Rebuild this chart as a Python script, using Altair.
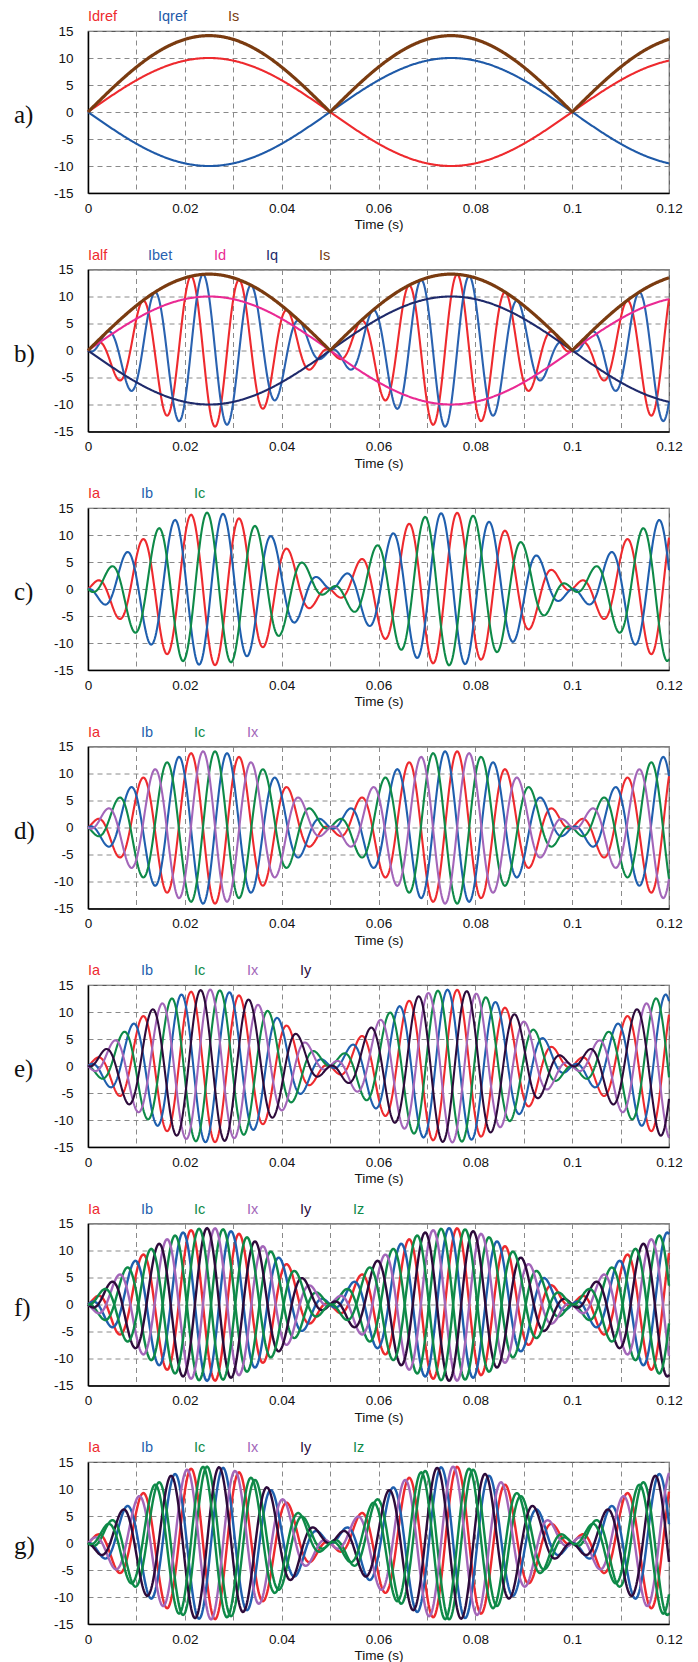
import altair as alt
import numpy as np
import pandas as pd

# ---------------- data ----------------
T_END = 0.12            # s, end of the time axis
T_STEP = 0.00015        # s, sampling step of the simulated traces
DQ_FREQ_HZ = 10.0       # Id/Iq references: one period = 0.1 s
ELEC_FREQ_HZ = 100.0    # electrical frequency of the phase currents (period 0.01 s)
ID_REF_PEAK = 10.0      # Idref peak
IQ_REF_PEAK = -10.0     # Iqref peak (opposite sign)

PANEL_TAGS = ["a)", "b)", "c)", "d)", "e)", "f)", "g)"]

SERIES_A = ["Idref", "Iqref", "Is"]
SERIES_B = ["Ialf", "Ibet", "Id", "Iq", "Is"]
SERIES_C = ["Ia", "Ib", "Ic"]
LEAD_C = [0, 120, 240]
SERIES_D = ["Ia", "Ib", "Ic", "Ix"]
LEAD_D = [0, 90, 180, 270]
SERIES_E = ["Ia", "Ib", "Ic", "Ix", "Iy"]
LEAD_E = [0, 72, 144, 216, 288]
SERIES_F = ["Ia", "Ib", "Ic", "Ix", "Iy", "Iz"]
LEAD_F = [0, 60, 120, 180, 240, 300]
SERIES_G = ["Ia", "Ib", "Ic", "Ix", "Iy", "Iz"]
LEAD_G = [0, 120, 240, 30, 150, 270]

Y_TICKS = [-15, -10, -5, 0, 5, 10, 15]
X_GRID = [0, 0.01, 0.02, 0.03, 0.04, 0.05, 0.06, 0.07, 0.08, 0.09, 0.1, 0.11, 0.12]
X_TITLE = "Time (s)"

# ---------------- styles ----------------
COLORS = {
    "Idref": "#ee2a2e", "Iqref": "#1f5aa8", "Is": "#7a3b10",
    "Ialf": "#ee2a2e", "Ibet": "#2a62b0", "Id": "#ea2a93", "Iq": "#1f2a6b",
    "Ia": "#ee2a2e", "Ib": "#1f5fae", "Ic": "#0e8a48", "Ix": "#a366b9",
    "Iy": "#2d0b3b", "Iz": "#0e8a48",
}
LEGEND_STEP = [70, 60, 53, 53, 53, 53, 53]
LEGEND_OFFSETS_B = [0, 60, 126, 178, 231]
W, H = 581, 162

# ---------------- build traces ----------------
t = np.round(np.arange(0, T_END + T_STEP / 2, T_STEP), 6)
s = np.sin(2 * np.pi * DQ_FREQ_HZ * t)
i_d = ID_REF_PEAK * s
i_q = IQ_REF_PEAK * s
i_s = np.hypot(i_d, i_q)
th = 2 * np.pi * ELEC_FREQ_HZ * t
i_alf = i_d * np.cos(th) - i_q * np.sin(th)
i_bet = i_d * np.sin(th) + i_q * np.cos(th)


def phase(lead_deg):
    a = np.deg2rad(lead_deg)
    return i_alf * np.cos(a) - i_bet * np.sin(a)


panel_data = [
    dict(zip(SERIES_A, [i_d, i_q, i_s])),
    dict(zip(SERIES_B, [i_alf, i_bet, i_d, i_q, i_s])),
    {n: phase(l) for n, l in zip(SERIES_C, LEAD_C)},
    {n: phase(l) for n, l in zip(SERIES_D, LEAD_D)},
    {n: phase(l) for n, l in zip(SERIES_E, LEAD_E)},
    {n: phase(l) for n, l in zip(SERIES_F, LEAD_F)},
    {n: phase(l) for n, l in zip(SERIES_G, LEAD_G)},
]
panel_series = [SERIES_A, SERIES_B, SERIES_C, SERIES_D, SERIES_E, SERIES_F, SERIES_G]

frames = []
for p, d in enumerate(panel_data):
    for name, vals in d.items():
        frames.append(pd.DataFrame({"panel": p, "series": name, "t": t, "v": np.round(vals, 3)}))
df = pd.concat(frames, ignore_index=True)

x_enc = alt.X(
    "t:Q",
    scale=alt.Scale(domain=[0, T_END], nice=False, zero=False),
    axis=alt.Axis(
        values=X_GRID,
        labelExpr="round(datum.value*100) % 2 == 0 ? '' + round(datum.value*100)/100 : ''",
        title=X_TITLE, ticks=False, labelPadding=8, titlePadding=3,
        labelOverlap=False, labelFlush=False,
    ),
)
y_enc = alt.Y(
    "v:Q",
    scale=alt.Scale(domain=[-15, 15], nice=False),
    axis=alt.Axis(values=Y_TICKS, labelExpr="'' + datum.value", title=None,
                  ticks=False, labelPadding=15),
)


def make_panel(p):
    names = panel_series[p]
    layers = []
    for name in names:
        sw = 3.2 if name == "Is" else (2.4 if p >= 5 else 2.1)
        layers.append(
            alt.Chart(df)
            .transform_filter(f"datum.panel == {p} && datum.series == '{name}'")
            .mark_line(color=COLORS[name], strokeWidth=sw)
            .encode(x=x_enc, y=y_enc)
        )
    if p == 1:
        offs = LEGEND_OFFSETS_B
    else:
        offs = [i * LEGEND_STEP[p] for i in range(len(names))]
    for name, off in zip(names, offs):
        layers.append(
            alt.Chart(alt.Data(values=[{"lab": name}]))
            .mark_text(align="left", baseline="alphabetic", fontSize=14.5,
                       font="Liberation Sans", color=COLORS[name])
            .encode(text="lab:N", x=alt.value(off), y=alt.value(-10))
        )
    layers.append(
        alt.Chart(alt.Data(values=[{"lab": PANEL_TAGS[p]}]))
        .mark_text(align="left", baseline="middle", fontSize=25,
                   font="Liberation Serif", color="#111", dy=3)
        .encode(text="lab:N", x=alt.value(-74), y=alt.value(H / 2))
    )
    return alt.layer(*layers).properties(width=W, height=H)


chart = (
    alt.vconcat(*[make_panel(p) for p in range(7)], spacing=14.5)
    .properties(padding={"left": 5, "top": 0, "right": 5, "bottom": 2})
    .configure_view(stroke="#555", strokeWidth=1.2)
    .configure_axis(
        grid=True, gridDash=[5, 4], gridColor="#8a8a8a", gridWidth=1,
        domainColor="#000", domainWidth=1.5,
        labelFont="Liberation Sans", labelFontSize=13.5, labelColor="#111",
        titleFont="Liberation Sans", titleFontSize=13.5, titleFontWeight="normal",
        titleColor="#111",
    )
)

chart.save("out.html", embed_options={"renderer": "svg", "actions": False})
